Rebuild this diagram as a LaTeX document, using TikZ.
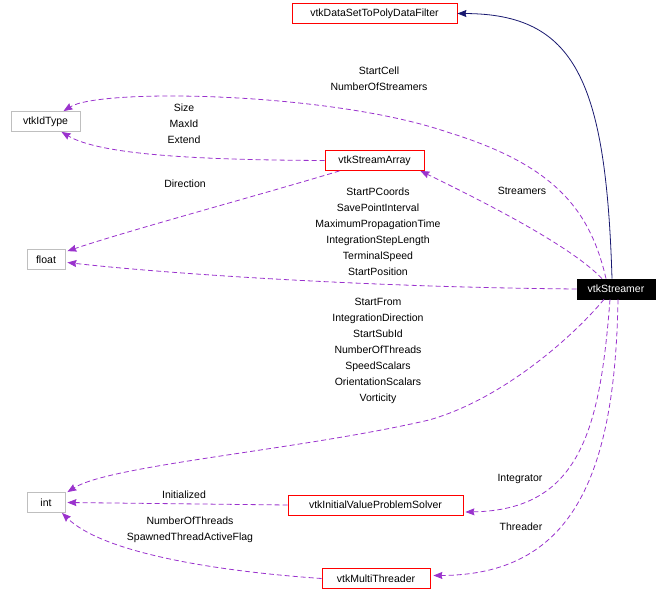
\documentclass[tikz,border=0pt]{standalone}
\usepackage{fontspec}
\setmainfont{Liberation Sans}
\usetikzlibrary{arrows.meta,calc}
\definecolor{roxo}{HTML}{9A32CD}
\definecolor{marinho}{HTML}{191970}
\definecolor{cinza}{HTML}{BFBFBF}

\begin{document}
\begin{tikzpicture}[x=1pt, y=-1pt,
  >={Stealth[length=9pt,width=7pt,inset=1pt]},
  caixa/.style={draw, minimum height=20pt, inner sep=0pt, line width=0.8pt,
                font=\fontsize{10.5}{16}\selectfont},
  classe/.style={caixa, draw=red},
  tipo/.style={caixa, draw=cinza},
  atual/.style={caixa, draw=black, fill=black, text=white},
  rotulo/.style={align=center, inner sep=0pt, font=\fontsize{10.5}{16}\selectfont},
  uso/.style={->, draw=roxo, line width=0.8pt, dash pattern=on 5pt off 3pt},
  heranca/.style={->, draw=marinho, line width=0.8pt}]

  \useasboundingbox (0,0) rectangle (669,609);

  \node[classe, minimum width=165pt] (filtro) at (374.5,13.5) {vtkDataSetToPolyDataFilter};
  \node[tipo, minimum width=69pt] (idtipo) at (45.5,121.5) {vtkIdType};
  \node[classe, minimum width=99pt] (matriz) at (374.5,160.5) {vtkStreamArray};
  \node[tipo, minimum width=38pt] (real) at (46,259.5) {float};
  \node[atual, minimum width=78pt] (str) at (616,289) {vtkStreamer};
  \node[tipo, minimum width=38pt] (inteiro) at (46,502.5) {int};
  \node[classe, minimum width=175pt] (solver) at (375.5,505) {vtkInitialValueProblemSolver};
  \node[classe, minimum width=108pt] (threader) at (376,578.5) {vtkMultiThreader};

  \node[rotulo] (lcell) at (379,79) {StartCell\\NumberOfStreamers};
  \node[rotulo] (lsize) at (184,123.5) {Size\\MaxId\\Extend};
  \node[rotulo] (ldir) at (185,184) {Direction};
  \node[rotulo] (lstream) at (522,191) {Streamers};
  \node[rotulo] (lreal) at (378,231.5) {StartPCoords\\SavePointInterval\\MaximumPropagationTime\\IntegrationStepLength\\TerminalSpeed\\StartPosition};
  \node[rotulo] (lint) at (378,351) {StartFrom\\IntegrationDirection\\StartSubId\\NumberOfThreads\\SpeedScalars\\OrientationScalars\\Vorticity};
  \node[rotulo] (lintegr) at (520,479) {Integrator};
  \node[rotulo] (linit) at (184,495) {Initialized};
  \node[rotulo] (lthr) at (521,527) {Threader};
  \node[rotulo] (lnum) at (190,530) {NumberOfThreads\\SpawnedThreadActiveFlag};

  \draw[heranca] ($(str.north)+(-4,0)$) .. controls (606,80) and (575,14) .. (filtro.east);
  \draw[uso] ($(str.north)+(-10,0)$) .. controls (590,210) and (555,165) .. (447,132)
    .. controls (330,92) and (100,88) .. ($(idtipo.north)+(18,0)$);
  \draw[uso] (matriz.west) .. controls (200,160) and (100,155) .. ($(idtipo.south)+(16,0)$);
  \draw[uso] ($(matriz.south west)+(15,0)$) .. controls (260,195) and (130,230) .. ($(real.north east)+(2,2)$);
  \draw[uso] ($(str.north)+(-14,0)$) .. controls (570,245) and (480,200) .. ($(matriz.south east)+(-4,0)$);
  \draw[uso] (str.west) .. controls (350,287) and (150,272) .. ($(real.east)+(2,3)$);
  \draw[uso] ($(str.south)+(-12,0)$) .. controls (570,340) and (500,400) .. (429,420)
    .. controls (300,450) and (110,465) .. ($(inteiro.north east)+(2,0)$);
  \draw[uso] ($(str.south)+(-6,0)$) .. controls (600,430) and (580,510) .. ($(solver.east)+(2,7)$);
  \draw[uso] ($(str.south)+(2,0)$) .. controls (615,480) and (570,575) .. ($(threader.east)+(3,-3)$);
  \draw[uso] (solver.west) -- ($(inteiro.east)+(2,0)$);
  \draw[uso] (threader.west) .. controls (200,570) and (100,550) .. ($(inteiro.south)+(16,0)$);
\end{tikzpicture}
\end{document}
